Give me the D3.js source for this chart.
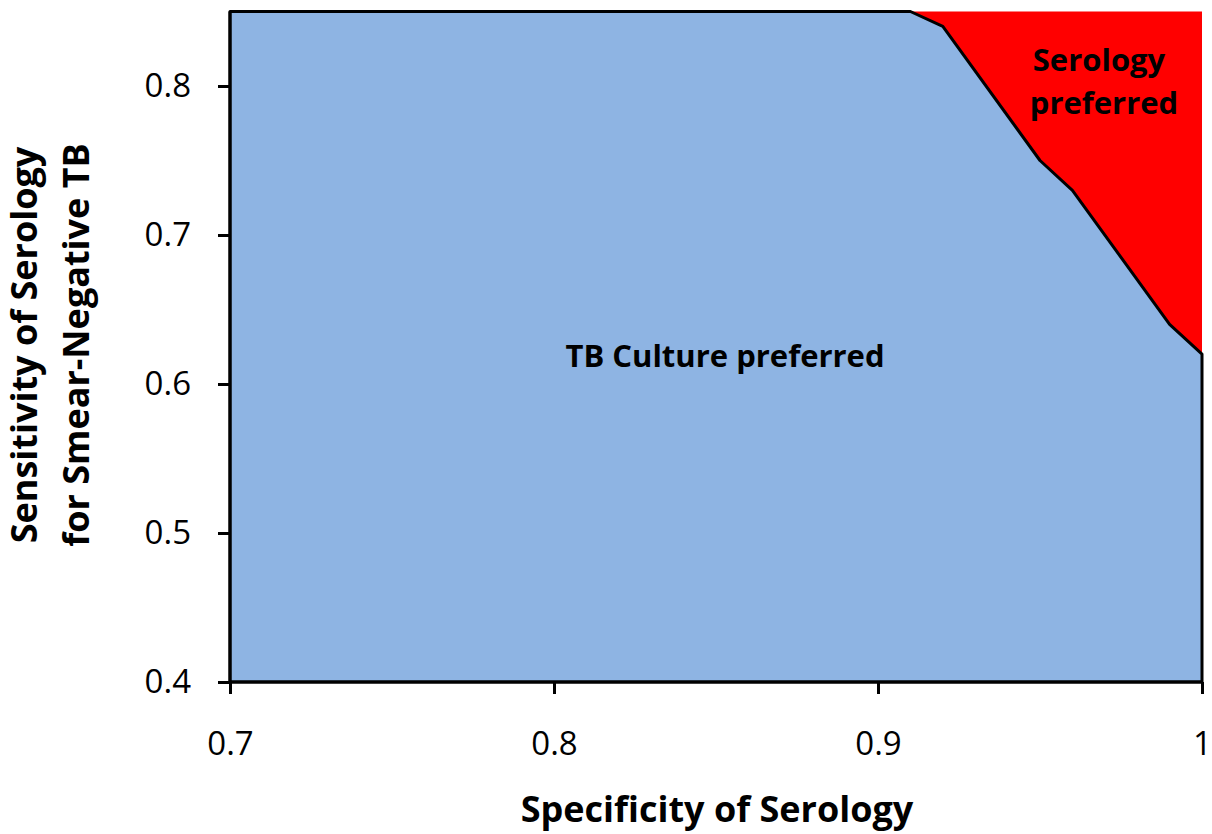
<!DOCTYPE html>
<html><head><meta charset="utf-8">
<script src="https://cdn.jsdelivr.net/npm/d3@7"></script>
<style>body{margin:0;background:#fff}text{font-family:"Open Sans",Lato,sans-serif}</style>
</head><body>
<svg id="c" width="1212" height="834"></svg>
<script>
const specificity = [0.7, 0.91, 0.92, 0.95, 0.96, 0.99, 1.0];
const sensitivityThreshold = [0.85, 0.85, 0.84, 0.75, 0.73, 0.64, 0.62];
const xTicks = [0.7, 0.8, 0.9, 1.0];
const xTickLabels = ["0.7", "0.8", "0.9", "1"];
const yTicks = [0.4, 0.5, 0.6, 0.7, 0.8];
const yTickLabels = ["0.4", "0.5", "0.6", "0.7", "0.8"];
const xDomain = [0.7, 1.0];
const yDomain = [0.4, 0.85];

const svg = d3.select("#c");
const x = d3.scaleLinear().domain(xDomain).range([230, 1202]);
const y = d3.scaleLinear().domain(yDomain).range([682, 682 - 1490 * 0.45]);

// red region (whole plot background)
svg.append("rect").attr("x", x(0.7)).attr("y", y(0.85))
  .attr("width", x(1) - x(0.7)).attr("height", y(0.4) - y(0.85))
  .attr("fill", "#ff0000");

// blue area
const area = d3.area().x(d => d[0]).y0(y(0.4)).y1(d => d[1]);
const pts = specificity.map((s, i) => [x(s), y(sensitivityThreshold[i])]);
svg.append("path").datum(pts).attr("d", area).attr("fill", "#8eb4e3");

// outline of blue area
const outline = [[x(0.7), y(0.4)], ...pts, [x(1), y(0.4)]];
svg.append("path").attr("d", d3.line()(outline) + "Z")
  .attr("fill", "none").attr("stroke", "#000").attr("stroke-width", 3).attr("stroke-linejoin", "round");

// axes
const xAxis = d3.axisBottom(x).tickValues(xTicks).tickFormat((d, i) => xTickLabels[i]).tickSize(12).tickPadding(38);
const gx = svg.append("g").attr("transform", `translate(0,${y(0.4)})`).call(xAxis);
gx.select(".domain").attr("stroke-width", 3).attr("d", `M${x(0.7)},0H${x(1)}`);
gx.selectAll(".tick line").attr("stroke-width", 3);
gx.selectAll(".tick text").attr("font-size", 33).attr("fill", "#000").attr("font-family", "'Open Sans',sans-serif");

const yAxis = d3.axisLeft(y).tickValues(yTicks).tickFormat((d, i) => yTickLabels[i]).tickSize(12).tickPadding(27);
const gy = svg.append("g").attr("transform", `translate(${x(0.7)},0)`).call(yAxis);
gy.select(".domain").attr("stroke-width", 3).attr("d", `M0,${y(0.4)}V${y(0.85)}`);
gy.selectAll(".tick line").attr("stroke-width", 3);
gy.selectAll(".tick text").attr("font-size", 33).attr("fill", "#000").attr("font-family", "'Open Sans',sans-serif");

// titles
svg.append("text").attr("x", 717).attr("y", 822).attr("text-anchor", "middle")
  .attr("font-size", 36).attr("font-weight", "bold").text("Specificity of Serology");
const yt = svg.append("text").attr("transform", "translate(0,345) rotate(-90)").attr("text-anchor", "middle")
  .attr("font-size", 36).attr("font-weight", "bold");
yt.append("tspan").attr("x", 0).attr("y", 37).text("Sensitivity of Serology");
yt.append("tspan").attr("x", 0).attr("y", 89).text("for Smear-Negative TB");

// region labels
svg.append("text").attr("x", 725).attr("y", 367).attr("text-anchor", "middle")
  .attr("font-size", 31).attr("font-weight", "bold").text("TB Culture preferred");
svg.append("text").attr("x", 1099).attr("y", 71).attr("text-anchor", "middle")
  .attr("font-size", 31).attr("font-weight", "bold").text("Serology");
svg.append("text").attr("x", 1104).attr("y", 114).attr("text-anchor", "middle")
  .attr("font-size", 31).attr("font-weight", "bold").text("preferred");
</script>
</body></html>
